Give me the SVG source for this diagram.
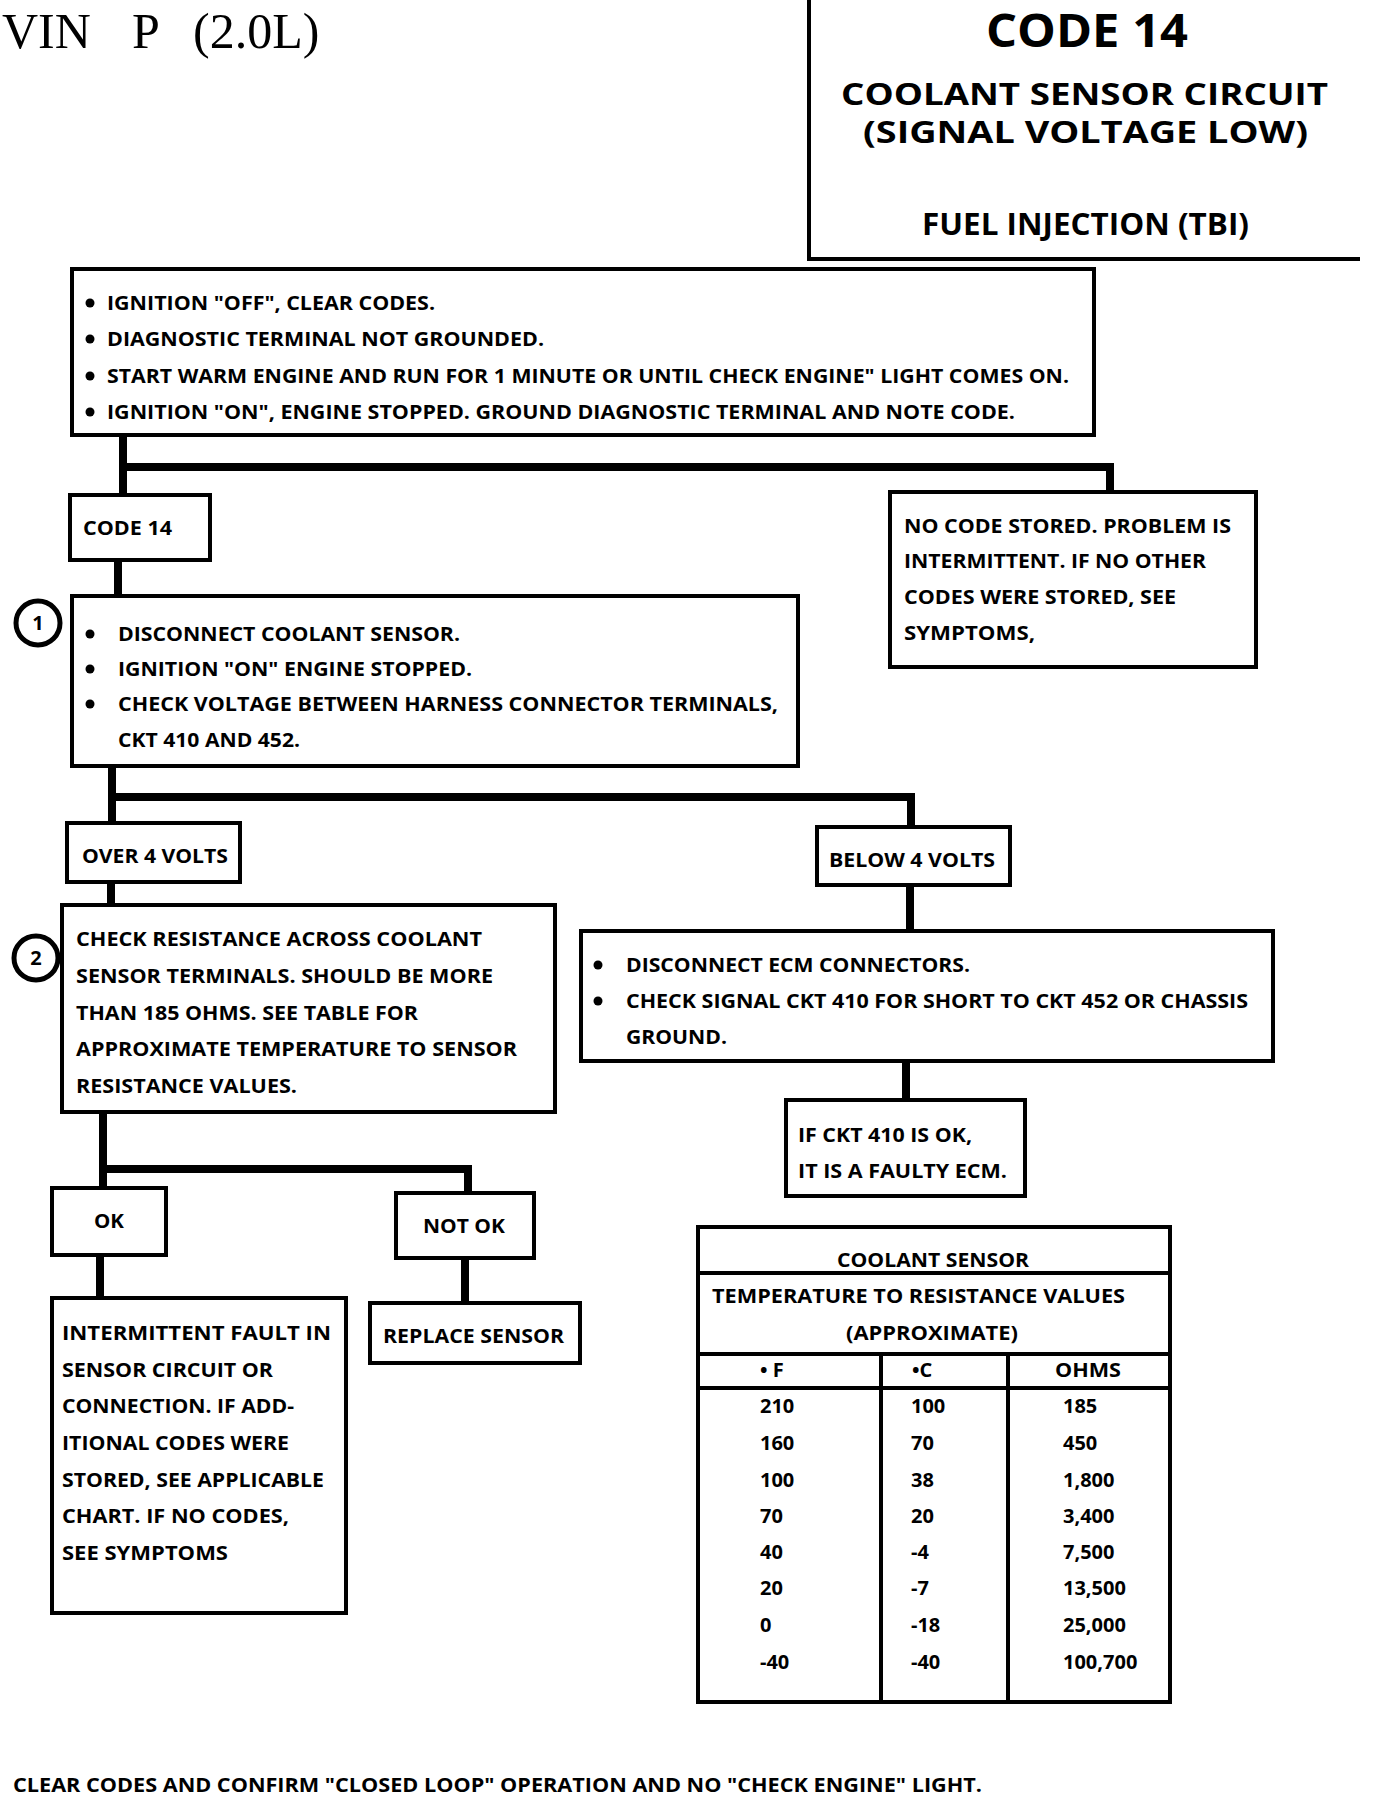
<svg xmlns="http://www.w3.org/2000/svg" width="1376" height="1796" viewBox="0 0 1376 1796">
<style>
.box{fill:#fff;stroke:#000;stroke-width:4}
.t{font-family:"Open Sans","Liberation Sans",sans-serif;font-weight:700;font-size:20px;fill:#000}
.h{font-family:"Open Sans","Liberation Sans",sans-serif;font-weight:700;fill:#000}
.c{fill:none;stroke:#000;stroke-width:8;stroke-linejoin:miter}
.ln{stroke:#000;stroke-width:4}
.num{font-family:"Open Sans","Liberation Sans",sans-serif;font-weight:700;font-size:20px;fill:#000}
.mark{fill:#fff;stroke:#000;stroke-width:5}
</style>
<rect width="1376" height="1796" fill="#fff"/>

<g id="title">
<text x="2" y="48" font-family="Liberation Serif,serif" font-size="50"><tspan x="2">VIN</tspan><tspan x="132">P</tspan><tspan x="193">(2.0L)</tspan></text>
</g>

<g id="header">
<path d="M809,0 V259 H1360" fill="none" stroke="#000" stroke-width="4"/>
<text class="h" x="986" y="47" font-size="46" textLength="202" lengthAdjust="spacingAndGlyphs">CODE 14</text>
<text class="h" x="841" y="105" font-size="30" textLength="487" lengthAdjust="spacingAndGlyphs">COOLANT SENSOR CIRCUIT</text>
<text class="h" x="863" y="143" font-size="30" textLength="445" lengthAdjust="spacingAndGlyphs">(SIGNAL VOLTAGE LOW)</text>
<text class="h" x="922" y="235" font-size="30" textLength="327" lengthAdjust="spacingAndGlyphs">FUEL INJECTION (TBI)</text>
</g>

<g id="connectors">
<path class="c" d="M123,435 V495 M119,467 H1110 V492"/>
<path class="c" d="M118,560 V596"/>
<path class="c" d="M112,766 V823 M108,797 H911 V827"/>
<path class="c" d="M111,882 V905"/>
<path class="c" d="M910,885 V931"/>
<path class="c" d="M906,1061 V1100"/>
<path class="c" d="M103,1112 V1188 M99,1169 H468 V1193"/>
<path class="c" d="M100,1255 V1298"/>
<path class="c" d="M465,1258 V1303"/>
</g>

<g id="start">
<rect class="box" x="72" y="269" width="1022" height="166"/>
<circle cx="90" cy="303" r="4.5"/>
<circle cx="90" cy="339" r="4.5"/>
<circle cx="90" cy="376" r="4.5"/>
<circle cx="90" cy="412" r="4.5"/>
<text class="t" x="107" y="310" textLength="328" lengthAdjust="spacingAndGlyphs">IGNITION "OFF", CLEAR CODES.</text>
<text class="t" x="107" y="346" textLength="437" lengthAdjust="spacingAndGlyphs">DIAGNOSTIC TERMINAL NOT GROUNDED.</text>
<text class="t" x="107" y="383" textLength="962" lengthAdjust="spacingAndGlyphs">START WARM ENGINE AND RUN FOR 1 MINUTE OR UNTIL CHECK ENGINE" LIGHT COMES ON.</text>
<text class="t" x="107" y="419" textLength="908" lengthAdjust="spacingAndGlyphs">IGNITION "ON", ENGINE STOPPED.  GROUND DIAGNOSTIC TERMINAL AND NOTE CODE.</text>
</g>

<g id="code14">
<rect class="box" x="70" y="495" width="140" height="65"/>
<text class="t" x="83" y="535" textLength="89" lengthAdjust="spacingAndGlyphs">CODE 14</text>
</g>

<g id="nocode">
<rect class="box" x="890" y="492" width="366" height="175"/>
<text class="t" x="904" y="533" textLength="327" lengthAdjust="spacingAndGlyphs">NO CODE STORED.  PROBLEM IS</text>
<text class="t" x="904" y="568" textLength="302" lengthAdjust="spacingAndGlyphs">INTERMITTENT.  IF NO OTHER</text>
<text class="t" x="904" y="604" textLength="272" lengthAdjust="spacingAndGlyphs">CODES WERE STORED, SEE</text>
<text class="t" x="904" y="640" textLength="131" lengthAdjust="spacingAndGlyphs">SYMPTOMS,</text>
</g>

<g id="step1">
<circle class="mark" cx="38" cy="623" r="22"/>
<text class="t" x="38" y="630" text-anchor="middle">1</text>
<rect class="box" x="72" y="596" width="726" height="170"/>
<circle cx="90" cy="634" r="4.5"/>
<circle cx="90" cy="669" r="4.5"/>
<circle cx="90" cy="704" r="4.5"/>
<text class="t" x="118" y="641" textLength="342" lengthAdjust="spacingAndGlyphs">DISCONNECT COOLANT SENSOR.</text>
<text class="t" x="118" y="676" textLength="354" lengthAdjust="spacingAndGlyphs">IGNITION "ON" ENGINE STOPPED.</text>
<text class="t" x="118" y="711" textLength="660" lengthAdjust="spacingAndGlyphs">CHECK VOLTAGE BETWEEN HARNESS CONNECTOR TERMINALS,</text>
<text class="t" x="118" y="747" textLength="182" lengthAdjust="spacingAndGlyphs">CKT 410 AND 452.</text>
</g>

<g id="over4">
<rect class="box" x="67" y="823" width="173" height="59"/>
<text class="t" x="82" y="863" textLength="146" lengthAdjust="spacingAndGlyphs">OVER 4 VOLTS</text>
</g>

<g id="below4">
<rect class="box" x="817" y="827" width="193" height="58"/>
<text class="t" x="829" y="867" textLength="166" lengthAdjust="spacingAndGlyphs">BELOW 4 VOLTS</text>
</g>

<g id="step2">
<circle class="mark" cx="36" cy="958" r="22"/>
<text class="t" x="36" y="965" text-anchor="middle">2</text>
<rect class="box" x="62" y="905" width="493" height="207"/>
<text class="t" x="76" y="946" textLength="406" lengthAdjust="spacingAndGlyphs">CHECK RESISTANCE ACROSS COOLANT</text>
<text class="t" x="76" y="983" textLength="417" lengthAdjust="spacingAndGlyphs">SENSOR TERMINALS.  SHOULD BE MORE</text>
<text class="t" x="76" y="1020" textLength="342" lengthAdjust="spacingAndGlyphs">THAN 185 OHMS. SEE TABLE FOR</text>
<text class="t" x="76" y="1056" textLength="441" lengthAdjust="spacingAndGlyphs">APPROXIMATE TEMPERATURE TO SENSOR</text>
<text class="t" x="76" y="1093" textLength="221" lengthAdjust="spacingAndGlyphs">RESISTANCE VALUES.</text>
</g>

<g id="ecm">
<rect class="box" x="581" y="931" width="692" height="130"/>
<circle cx="598" cy="965" r="4.5"/>
<circle cx="598" cy="1001" r="4.5"/>
<text class="t" x="626" y="972" textLength="344" lengthAdjust="spacingAndGlyphs">DISCONNECT ECM CONNECTORS.</text>
<text class="t" x="626" y="1008" textLength="622" lengthAdjust="spacingAndGlyphs">CHECK SIGNAL CKT 410 FOR SHORT TO CKT 452 OR CHASSIS</text>
<text class="t" x="626" y="1044" textLength="101" lengthAdjust="spacingAndGlyphs">GROUND.</text>
</g>

<g id="faultyecm">
<rect class="box" x="786" y="1100" width="239" height="96"/>
<text class="t" x="798" y="1142" textLength="174" lengthAdjust="spacingAndGlyphs">IF CKT 410 IS OK,</text>
<text class="t" x="798" y="1178" textLength="209" lengthAdjust="spacingAndGlyphs">IT IS A FAULTY ECM.</text>
</g>

<g id="ok">
<rect class="box" x="52" y="1188" width="114" height="67"/>
<text class="t" x="94" y="1228" textLength="30" lengthAdjust="spacingAndGlyphs">OK</text>
</g>

<g id="notok">
<rect class="box" x="396" y="1193" width="138" height="65"/>
<text class="t" x="423" y="1233" textLength="82" lengthAdjust="spacingAndGlyphs">NOT OK</text>
</g>

<g id="intermittent">
<rect class="box" x="52" y="1298" width="294" height="315"/>
<text class="t" x="62" y="1340" textLength="269" lengthAdjust="spacingAndGlyphs">INTERMITTENT  FAULT  IN</text>
<text class="t" x="62" y="1377" textLength="211" lengthAdjust="spacingAndGlyphs">SENSOR  CIRCUIT OR</text>
<text class="t" x="62" y="1413" textLength="232" lengthAdjust="spacingAndGlyphs">CONNECTION.  IF ADD-</text>
<text class="t" x="62" y="1450" textLength="227" lengthAdjust="spacingAndGlyphs">ITIONAL CODES WERE</text>
<text class="t" x="62" y="1487" textLength="262" lengthAdjust="spacingAndGlyphs">STORED, SEE APPLICABLE</text>
<text class="t" x="62" y="1523" textLength="227" lengthAdjust="spacingAndGlyphs">CHART.  IF NO CODES,</text>
<text class="t" x="62" y="1560" textLength="166" lengthAdjust="spacingAndGlyphs">SEE SYMPTOMS</text>
</g>

<g id="replace">
<rect class="box" x="370" y="1303" width="210" height="60"/>
<text class="t" x="383" y="1343" textLength="181" lengthAdjust="spacingAndGlyphs">REPLACE SENSOR</text>
</g>

<g id="table">
<rect class="box" x="698" y="1227" width="472" height="475"/>
<line class="ln" x1="698" y1="1273" x2="1170" y2="1273"/>
<line class="ln" x1="698" y1="1354" x2="1170" y2="1354"/>
<line class="ln" x1="698" y1="1388" x2="1170" y2="1388"/>
<line class="ln" x1="881" y1="1354" x2="881" y2="1702"/>
<line class="ln" x1="1008" y1="1354" x2="1008" y2="1702"/>
<text class="t" x="837" y="1267" textLength="192" lengthAdjust="spacingAndGlyphs">COOLANT SENSOR</text>
<text class="t" x="712" y="1303" textLength="413" lengthAdjust="spacingAndGlyphs">TEMPERATURE TO RESISTANCE VALUES</text>
<text class="t" x="846" y="1340" textLength="172" lengthAdjust="spacingAndGlyphs">(APPROXIMATE)</text>
<text class="num" x="760" y="1377">• F</text>
<text class="num" x="912" y="1377">•C</text>
<text class="num" x="1055" y="1377" textLength="66" lengthAdjust="spacingAndGlyphs">OHMS</text>
<text class="num" x="760" y="1413">210</text><text class="num" x="911" y="1413">100</text><text class="num" x="1063" y="1413">185</text>
<text class="num" x="760" y="1450">160</text><text class="num" x="911" y="1450">70</text><text class="num" x="1063" y="1450">450</text>
<text class="num" x="760" y="1487">100</text><text class="num" x="911" y="1487">38</text><text class="num" x="1063" y="1487">1,800</text>
<text class="num" x="760" y="1523">70</text><text class="num" x="911" y="1523">20</text><text class="num" x="1063" y="1523">3,400</text>
<text class="num" x="760" y="1559">40</text><text class="num" x="911" y="1559">-4</text><text class="num" x="1063" y="1559">7,500</text>
<text class="num" x="760" y="1595">20</text><text class="num" x="911" y="1595">-7</text><text class="num" x="1063" y="1595">13,500</text>
<text class="num" x="760" y="1632">0</text><text class="num" x="911" y="1632">-18</text><text class="num" x="1063" y="1632">25,000</text>
<text class="num" x="760" y="1669">-40</text><text class="num" x="911" y="1669">-40</text><text class="num" x="1063" y="1669">100,700</text>
</g>

<g id="footer">
<text class="t" x="13" y="1792" textLength="969" lengthAdjust="spacingAndGlyphs">CLEAR CODES AND CONFIRM "CLOSED LOOP"  OPERATION AND NO "CHECK ENGINE" LIGHT.</text>
</g>
</svg>
